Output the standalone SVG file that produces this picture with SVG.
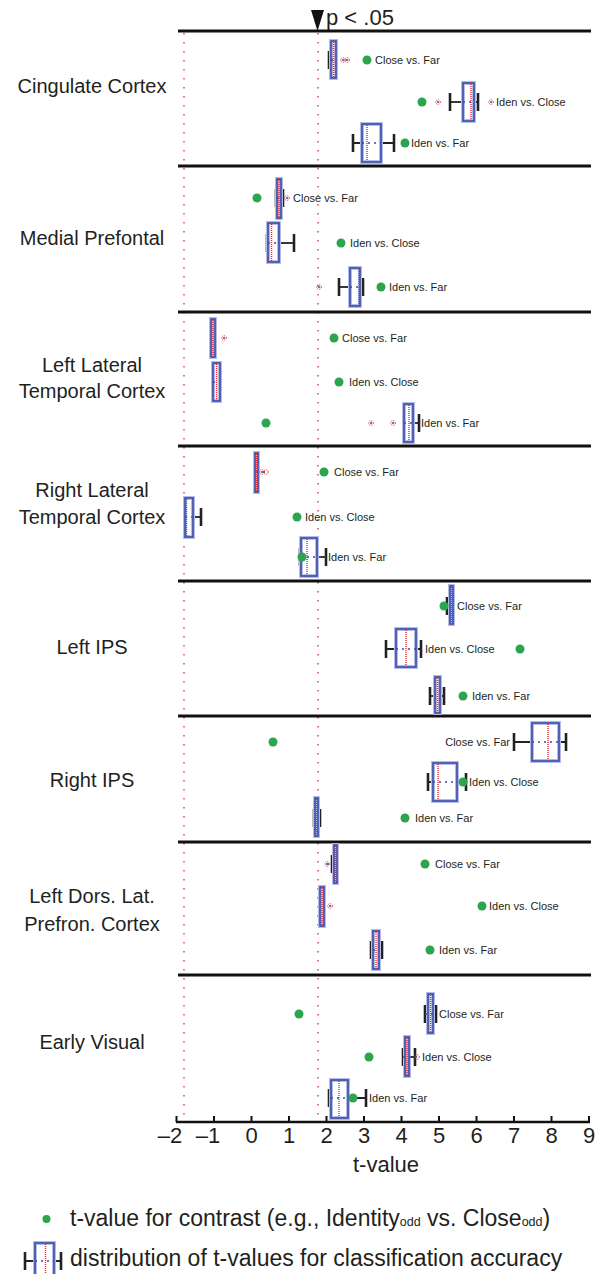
<svg xmlns="http://www.w3.org/2000/svg" width="606" height="1274" viewBox="0 0 606 1274">
<style>
text{font-family:"Liberation Sans",Arial,sans-serif;fill:#231f20}
.reg{font-size:20px;text-anchor:middle}
.lbl{font-size:11px}
.sep{stroke:#111;stroke-width:3}
.ref{stroke:#e8262e;stroke-width:1.3;stroke-dasharray:1.5 7.5}
.wh{stroke:#222;stroke-width:1.8}
.cap{stroke:#222;stroke-width:2.6}
.halo{fill:#fff;stroke:#b3bbe6;stroke-width:4}
.box{fill:none;stroke:#3a4ca6;stroke-width:1.6}
.med{stroke:#e8262e;stroke-width:1.4;stroke-dasharray:1 1}
.mid{stroke:#3a4ca6;stroke-width:1.6;stroke-dasharray:2 4}
.dot{fill:#2ca54c}
.out{fill:none;stroke:#e8262e;stroke-width:1;stroke-dasharray:1 1}
.oc{fill:#3a4ca6}
.tick{font-size:22px;text-anchor:middle}
.leg{font-size:23px}
.sub{font-size:12.5px}
</style>
<g id="frame">
<line class="ref" x1="184" y1="33" x2="184" y2="1120"/>
<line class="ref" x1="318" y1="33" x2="318" y2="1120"/>
<line class="sep" x1="178" y1="31" x2="591" y2="31"/>
<line class="sep" x1="178" y1="166" x2="591" y2="166"/>
<line class="sep" x1="178" y1="312" x2="591" y2="312"/>
<line class="sep" x1="178" y1="446" x2="591" y2="446"/>
<line class="sep" x1="178" y1="581" x2="591" y2="581"/>
<line class="sep" x1="178" y1="716" x2="591" y2="716"/>
<line class="sep" x1="178" y1="842" x2="591" y2="842"/>
<line class="sep" x1="178" y1="975" x2="591" y2="975"/>
<polygon points="311,10 324,10 317.5,31" fill="#111"/>
<text x="326" y="25" style="font-size:22px">p &lt; .05</text>
</g>
<g id="axis">
<line x1="176" y1="1122" x2="590" y2="1122" stroke="#111" stroke-width="2.5"/>
<path d="M176.5 1122v-6M214 1122v-6M251.5 1122v-6M289 1122v-6M326.5 1122v-6M364 1122v-6M401.5 1122v-6M439 1122v-6M476.5 1122v-6M514 1122v-6M551.5 1122v-6M589 1122v-6" stroke="#111" stroke-width="2"/>
<text class="tick" x="170" y="1143">–2</text>
<text class="tick" x="208" y="1143">–1</text>
<text class="tick" x="251.5" y="1143">0</text>
<text class="tick" x="289" y="1143">1</text>
<text class="tick" x="326.5" y="1143">2</text>
<text class="tick" x="364" y="1143">3</text>
<text class="tick" x="401.5" y="1143">4</text>
<text class="tick" x="439" y="1143">5</text>
<text class="tick" x="476.5" y="1143">6</text>
<text class="tick" x="514" y="1143">7</text>
<text class="tick" x="551.5" y="1143">8</text>
<text class="tick" x="589" y="1143">9</text>
<text x="386" y="1172" style="font-size:22px;text-anchor:middle">t-value</text>
</g>
<g id="region-labels">
<text class="reg" x="92" y="93">Cingulate Cortex</text>
<text class="reg" x="92" y="245">Medial Prefontal</text>
<text class="reg" x="92" y="372">Left Lateral</text>
<text class="reg" x="92" y="398">Temporal Cortex</text>
<text class="reg" x="92" y="497">Right Lateral</text>
<text class="reg" x="92" y="524">Temporal Cortex</text>
<text class="reg" x="92" y="654">Left IPS</text>
<text class="reg" x="92" y="787">Right IPS</text>
<text class="reg" x="92" y="903">Left Dors. Lat.</text>
<text class="reg" x="92" y="931">Prefron. Cortex</text>
<text class="reg" x="92" y="1049">Early Visual</text>
</g>
<!-- Row 1 Cingulate -->
<g id="cing-cf">
<line class="wh" x1="329" y1="60" x2="336" y2="60"/><line class="cap" x1="329" y1="51" x2="329" y2="69"/>
<rect class="halo" x="331" y="41" width="5" height="37"/><rect class="box" x="331" y="41" width="5" height="37"/>
<line class="med" x1="333.5" y1="42" x2="333.5" y2="77"/><line class="mid" x1="331" y1="60" x2="336" y2="60"/>
<circle class="out" cx="343" cy="60" r="2.3"/><circle class="oc" cx="343" cy="60" r="1"/><circle class="out" cx="347" cy="60" r="2.3"/><circle class="oc" cx="347" cy="60" r="1"/>
<circle class="dot" cx="367" cy="60" r="4.5"/><text class="lbl" x="375" y="64">Close vs. Far</text>
</g>
<g id="cing-ic">
<line class="wh" x1="450" y1="102" x2="478" y2="102"/><line class="cap" x1="450" y1="93" x2="450" y2="111"/><line class="cap" x1="478" y1="93" x2="478" y2="111"/>
<rect class="halo" x="463" y="83" width="11" height="38"/><rect class="box" x="463" y="83" width="11" height="38"/>
<line class="med" x1="471" y1="84" x2="471" y2="120"/><line class="mid" x1="463" y1="102" x2="474" y2="102"/>
<circle class="out" cx="438" cy="102" r="2.3"/><circle class="oc" cx="438" cy="102" r="1"/><circle class="out" cx="491" cy="102" r="2.3"/><circle class="oc" cx="491" cy="102" r="1"/>
<circle class="dot" cx="422" cy="102" r="4.5"/><text class="lbl" x="496" y="106">Iden vs. Close</text>
</g>
<g id="cing-if">
<line class="wh" x1="353" y1="143" x2="394" y2="143"/><line class="cap" x1="353" y1="134" x2="353" y2="152"/><line class="cap" x1="394" y1="134" x2="394" y2="152"/>
<rect class="halo" x="362" y="124" width="19" height="38"/><rect class="box" x="362" y="124" width="19" height="38"/>
<line class="med" x1="367" y1="125" x2="367" y2="161"/><line class="mid" x1="362" y1="143" x2="381" y2="143"/>
<circle class="dot" cx="405" cy="143" r="4.5"/><text class="lbl" x="411" y="147">Iden vs. Far</text>
</g>
<!-- Row 2 Medial Prefrontal -->
<g id="mpfc-cf">
<line class="wh" x1="276" y1="198" x2="283" y2="198"/><line class="cap" x1="276" y1="189" x2="276" y2="207"/><line class="cap" x1="283" y1="189" x2="283" y2="207"/>
<rect class="halo" x="277" y="179" width="4" height="39"/><rect class="box" x="277" y="179" width="4" height="39"/>
<line class="med" x1="279" y1="180" x2="279" y2="217"/><line class="mid" x1="277" y1="198" x2="281" y2="198"/>
<circle class="out" cx="287" cy="198" r="2.3"/><circle class="oc" cx="287" cy="198" r="1"/>
<circle class="dot" cx="257" cy="198" r="4.5"/><text class="lbl" x="293" y="202">Close vs. Far</text>
</g>
<g id="mpfc-ic">
<line class="wh" x1="267" y1="243" x2="294" y2="243"/><line class="cap" x1="267" y1="234" x2="267" y2="252"/><line class="cap" x1="294" y1="234" x2="294" y2="252"/>
<rect class="halo" x="268" y="223" width="11" height="39"/><rect class="box" x="268" y="223" width="11" height="39"/>
<line class="med" x1="271.5" y1="224" x2="271.5" y2="261"/><line class="mid" x1="268" y1="243" x2="279" y2="243"/>
<circle class="dot" cx="341" cy="243" r="4.5"/><text class="lbl" x="350" y="247">Iden vs. Close</text>
</g>
<g id="mpfc-if">
<line class="wh" x1="339" y1="287" x2="363" y2="287"/><line class="cap" x1="339" y1="278" x2="339" y2="296"/><line class="cap" x1="363" y1="278" x2="363" y2="296"/>
<rect class="halo" x="350" y="268" width="10" height="38"/><rect class="box" x="350" y="268" width="10" height="38"/>
<line class="med" x1="359" y1="269" x2="359" y2="305"/><line class="mid" x1="350" y1="287" x2="360" y2="287"/>
<circle class="out" cx="319" cy="287" r="2.3"/><circle class="oc" cx="319" cy="287" r="1"/>
<circle class="dot" cx="381" cy="287" r="4.5"/><text class="lbl" x="389" y="291">Iden vs. Far</text>
</g>
<!-- Row 3 Left Lateral Temporal -->
<g id="llt-cf">
<line class="wh" x1="211" y1="338" x2="216" y2="338"/><line class="cap" x1="212" y1="329" x2="212" y2="347"/><line class="cap" x1="215" y1="329" x2="215" y2="347"/>
<rect class="halo" x="211" y="319" width="4" height="38"/><rect class="box" x="211" y="319" width="4" height="38"/>
<line class="med" x1="213" y1="320" x2="213" y2="356"/>
<circle class="out" cx="224" cy="338" r="2.3"/><circle class="oc" cx="224" cy="338" r="1"/>
<circle class="dot" cx="334" cy="338" r="4.5"/><text class="lbl" x="342" y="342">Close vs. Far</text>
</g>
<g id="llt-ic">
<line class="wh" x1="213" y1="382" x2="220" y2="382"/><line class="cap" x1="213" y1="373" x2="213" y2="391"/><line class="cap" x1="219" y1="373" x2="219" y2="391"/>
<rect class="halo" x="213" y="363" width="7" height="38"/><rect class="box" x="213" y="363" width="7" height="38"/>
<line class="med" x1="216.5" y1="364" x2="216.5" y2="400"/><line class="mid" x1="213" y1="382" x2="220" y2="382"/>
<circle class="dot" cx="339" cy="382" r="4.5"/><text class="lbl" x="349" y="386">Iden vs. Close</text>
</g>
<g id="llt-if">
<line class="wh" x1="405" y1="423" x2="419" y2="423"/><line class="cap" x1="419" y1="414" x2="419" y2="432"/>
<rect class="halo" x="404" y="404" width="9" height="38"/><rect class="box" x="404" y="404" width="9" height="38"/>
<line class="med" x1="409" y1="405" x2="409" y2="441"/><line class="mid" x1="404" y1="423" x2="413" y2="423"/>
<circle class="out" cx="371" cy="423" r="2.3"/><circle class="oc" cx="371" cy="423" r="1"/><circle class="out" cx="393" cy="423" r="2.3"/><circle class="oc" cx="393" cy="423" r="1"/>
<circle class="dot" cx="266" cy="423" r="4.5"/><text class="lbl" x="421" y="427">Iden vs. Far</text>
</g>
<!-- Row 4 Right Lateral Temporal -->
<g id="rlt-cf">
<line class="wh" x1="255" y1="472" x2="259" y2="472"/>
<rect class="halo" x="255" y="453" width="3" height="39"/><rect class="box" x="255" y="453" width="3" height="39"/>
<line class="med" x1="256.5" y1="454" x2="256.5" y2="491"/><line class="mid" x1="255" y1="472" x2="266" y2="472"/>
<circle class="out" cx="262" cy="472" r="2.3"/><circle class="out" cx="266" cy="472" r="2.3"/><circle class="oc" cx="264" cy="472" r="1"/>
<circle class="dot" cx="324" cy="472" r="4.5"/><text class="lbl" x="334" y="476">Close vs. Far</text>
</g>
<g id="rlt-ic">
<line class="wh" x1="185" y1="517" x2="201" y2="517"/><line class="cap" x1="185" y1="508" x2="185" y2="526"/><line class="cap" x1="201" y1="508" x2="201" y2="526"/>
<rect class="halo" x="185" y="498" width="8" height="39"/><rect class="box" x="185" y="498" width="8" height="39"/>
<line class="med" x1="186.5" y1="499" x2="186.5" y2="536"/><line class="mid" x1="185" y1="517" x2="193" y2="517"/>
<circle class="dot" cx="297" cy="517" r="4.5"/><text class="lbl" x="305" y="521">Iden vs. Close</text>
</g>
<g id="rlt-if">
<line class="wh" x1="300" y1="557" x2="326" y2="557"/><line class="cap" x1="300" y1="548" x2="300" y2="566"/><line class="cap" x1="326" y1="548" x2="326" y2="566"/>
<rect class="halo" x="301" y="538" width="16" height="38"/><rect class="box" x="301" y="538" width="16" height="38"/>
<line class="med" x1="307" y1="539" x2="307" y2="575"/><line class="mid" x1="301" y1="557" x2="326" y2="557"/>
<circle class="dot" cx="302" cy="557" r="4.5"/><text class="lbl" x="328" y="561">Iden vs. Far</text>
</g>
<!-- Row 5 Left IPS -->
<g id="lips-cf">
<line class="wh" x1="447" y1="606" x2="453" y2="606"/><line class="cap" x1="447" y1="597" x2="447" y2="615"/><line class="cap" x1="453" y1="597" x2="453" y2="615"/>
<rect class="halo" x="450" y="586" width="3" height="38"/><rect class="box" x="450" y="586" width="3" height="38"/>
<line class="med" x1="451.5" y1="587" x2="451.5" y2="623"/>
<circle class="dot" cx="444" cy="606" r="4.5"/><text class="lbl" x="457" y="610">Close vs. Far</text>
</g>
<g id="lips-ic">
<line class="wh" x1="386" y1="649" x2="421" y2="649"/><line class="cap" x1="386" y1="640" x2="386" y2="658"/><line class="cap" x1="421" y1="640" x2="421" y2="658"/>
<rect class="halo" x="396" y="629" width="20" height="38"/><rect class="box" x="396" y="629" width="20" height="38"/>
<line class="med" x1="406" y1="630" x2="406" y2="666"/><line class="mid" x1="396" y1="649" x2="416" y2="649"/>
<circle class="dot" cx="520" cy="649" r="4.5"/><text class="lbl" x="425" y="653">Iden vs. Close</text>
</g>
<g id="lips-if">
<line class="wh" x1="430" y1="696" x2="444" y2="696"/><line class="cap" x1="430" y1="687" x2="430" y2="705"/><line class="cap" x1="444" y1="687" x2="444" y2="705"/>
<rect class="halo" x="435" y="677" width="5" height="36"/><rect class="box" x="435" y="677" width="5" height="36"/>
<line class="med" x1="437.5" y1="678" x2="437.5" y2="712"/>
<circle class="dot" cx="463" cy="696" r="4.5"/><text class="lbl" x="472" y="700">Iden vs. Far</text>
</g>
<!-- Row 6 Right IPS -->
<g id="rips-cf">
<line class="wh" x1="514" y1="742" x2="566" y2="742"/><line class="cap" x1="514" y1="733" x2="514" y2="751"/><line class="cap" x1="566" y1="733" x2="566" y2="751"/>
<rect class="halo" x="532" y="723" width="27" height="38"/><rect class="box" x="532" y="723" width="27" height="38"/>
<line class="med" x1="548" y1="724" x2="548" y2="760"/><line class="mid" x1="532" y1="742" x2="559" y2="742"/>
<circle class="dot" cx="273" cy="742" r="4.5"/><text class="lbl" x="510" y="746" text-anchor="end">Close vs. Far</text>
</g>
<g id="rips-ic">
<line class="wh" x1="428" y1="782" x2="466" y2="782"/><line class="cap" x1="428" y1="773" x2="428" y2="791"/><line class="cap" x1="466" y1="773" x2="466" y2="791"/>
<rect class="halo" x="433" y="763" width="24" height="38"/><rect class="box" x="433" y="763" width="24" height="38"/>
<line class="med" x1="438" y1="764" x2="438" y2="800"/><line class="mid" x1="433" y1="782" x2="457" y2="782"/>
<circle class="dot" cx="463" cy="782" r="4.5"/><text class="lbl" x="469" y="786">Iden vs. Close</text>
</g>
<g id="rips-if">
<line class="wh" x1="314" y1="818" x2="321" y2="818"/><line class="cap" x1="314" y1="809" x2="314" y2="827"/><line class="cap" x1="320" y1="809" x2="320" y2="827"/>
<rect class="halo" x="315" y="798" width="3" height="38"/><rect class="box" x="315" y="798" width="3" height="38"/>
<line class="med" x1="316.5" y1="799" x2="316.5" y2="835"/>
<circle class="dot" cx="405" cy="818" r="4.5"/><text class="lbl" x="415" y="822">Iden vs. Far</text>
</g>
<!-- Row 7 Left DLPFC -->
<g id="dlpfc-cf">
<line class="wh" x1="332" y1="864" x2="337" y2="864"/><line class="cap" x1="332" y1="855" x2="332" y2="873"/>
<rect class="halo" x="334" y="845" width="3" height="38"/><rect class="box" x="334" y="845" width="3" height="38"/>
<line class="med" x1="335.5" y1="846" x2="335.5" y2="882"/><line class="mid" x1="327" y1="864" x2="337" y2="864"/>
<circle class="out" cx="327" cy="864" r="2.3"/><circle class="oc" cx="327" cy="864" r="1"/>
<circle class="dot" cx="425" cy="864" r="4.5"/><text class="lbl" x="435" y="868">Close vs. Far</text>
</g>
<g id="dlpfc-ic">
<line class="wh" x1="320" y1="906" x2="324" y2="906"/><line class="cap" x1="320" y1="897" x2="320" y2="915"/><line class="cap" x1="324" y1="897" x2="324" y2="915"/>
<rect class="halo" x="320" y="887" width="4" height="39"/><rect class="box" x="320" y="887" width="4" height="39"/>
<line class="med" x1="322" y1="888" x2="322" y2="925"/>
<circle class="out" cx="330" cy="906" r="2.3"/><circle class="oc" cx="330" cy="906" r="1"/>
<circle class="dot" cx="482" cy="906" r="4.5"/><text class="lbl" x="489" y="910">Iden vs. Close</text>
</g>
<g id="dlpfc-if">
<line class="wh" x1="371" y1="950" x2="382" y2="950"/><line class="cap" x1="371" y1="941" x2="371" y2="959"/><line class="cap" x1="382" y1="941" x2="382" y2="959"/>
<rect class="halo" x="373" y="931" width="6" height="38"/><rect class="box" x="373" y="931" width="6" height="38"/>
<line class="med" x1="376" y1="932" x2="376" y2="968"/><line class="mid" x1="373" y1="950" x2="379" y2="950"/>
<circle class="dot" cx="430" cy="950" r="4.5"/><text class="lbl" x="439" y="954">Iden vs. Far</text>
</g>
<!-- Row 8 Early Visual -->
<g id="ev-cf">
<line class="wh" x1="425" y1="1014" x2="436" y2="1014"/><line class="cap" x1="425" y1="1005" x2="425" y2="1023"/><line class="cap" x1="436" y1="1005" x2="436" y2="1023"/>
<rect class="halo" x="428" y="994" width="5" height="39"/><rect class="box" x="428" y="994" width="5" height="39"/>
<line class="med" x1="430.5" y1="995" x2="430.5" y2="1032"/><line class="mid" x1="425" y1="1014" x2="436" y2="1014"/>
<circle class="dot" cx="299" cy="1014" r="4.5"/><text class="lbl" x="439" y="1018">Close vs. Far</text>
</g>
<g id="ev-ic">
<line class="wh" x1="403" y1="1057" x2="415" y2="1057"/><line class="cap" x1="403" y1="1048" x2="403" y2="1066"/><line class="cap" x1="415" y1="1048" x2="415" y2="1066"/>
<rect class="halo" x="405" y="1037" width="4" height="39"/><rect class="box" x="405" y="1037" width="4" height="39"/>
<line class="med" x1="407" y1="1038" x2="407" y2="1075"/><line class="mid" x1="403" y1="1057" x2="417" y2="1057"/>
<circle class="out" cx="417" cy="1057" r="2.3"/>
<circle class="dot" cx="369" cy="1057" r="4.5"/><text class="lbl" x="422" y="1061">Iden vs. Close</text>
</g>
<g id="ev-if">
<line class="wh" x1="329" y1="1098" x2="366" y2="1098"/><line class="cap" x1="329" y1="1089" x2="329" y2="1107"/><line class="cap" x1="366" y1="1089" x2="366" y2="1107"/>
<rect class="halo" x="331" y="1080" width="17" height="38"/><rect class="box" x="331" y="1080" width="17" height="38"/>
<line class="med" x1="339" y1="1081" x2="339" y2="1117"/><line class="mid" x1="331" y1="1098" x2="348" y2="1098"/>
<circle class="dot" cx="353" cy="1098" r="4.5"/><text class="lbl" x="369" y="1102">Iden vs. Far</text>
</g>
<g id="legend">
<circle class="dot" cx="46.5" cy="1219" r="4"/>
<text class="leg" x="70" y="1226">t-value for contrast (e.g., Identity<tspan class="sub">odd</tspan> vs. Close<tspan class="sub">odd</tspan>)</text>
<line class="wh" x1="25" y1="1261" x2="61" y2="1261"/><line class="cap" x1="25" y1="1252" x2="25" y2="1270"/><line class="cap" x1="61" y1="1252" x2="61" y2="1270"/>
<rect class="halo" x="35" y="1243" width="19" height="36"/><rect class="box" x="35" y="1243" width="19" height="36"/>
<line class="med" x1="45.5" y1="1244" x2="45.5" y2="1274"/><line class="mid" x1="35" y1="1261" x2="54" y2="1261"/>
<text class="leg" x="70" y="1266">distribution of t-values for classification accuracy</text>
</g>
</svg>
